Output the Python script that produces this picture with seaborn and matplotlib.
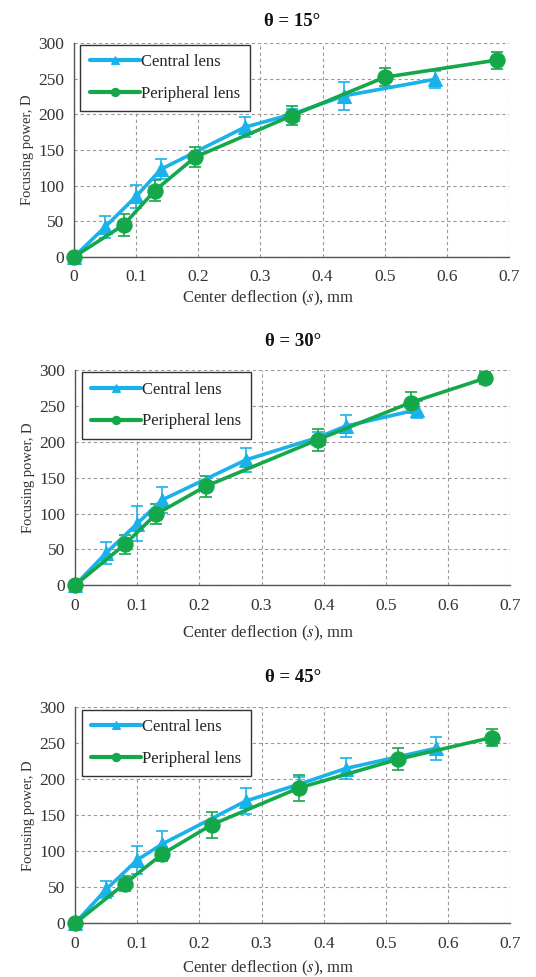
import numpy as np
import pandas as pd
import matplotlib
matplotlib.use("Agg")
import matplotlib.pyplot as plt
import seaborn as sns

titles = ["θ = 15°", "θ = 30°", "θ = 45°"]

c15_x = [0, 0.05, 0.10, 0.14, 0.275, 0.35, 0.435, 0.58]
c15_y = [0, 42, 85, 123, 182, 200, 226, 249]
c15_e = [0, 16, 16, 14, 14, 8, 20, 12]
p15_x = [0, 0.08, 0.13, 0.195, 0.35, 0.50, 0.68]
p15_y = [0, 45, 93, 140, 198, 252, 276]
p15_e = [0, 15, 15, 14, 13, 13, 12]

c30_x = [0, 0.05, 0.10, 0.14, 0.275, 0.39, 0.435, 0.55]
c30_y = [0, 45, 86, 119, 175, 206, 222, 245]
c30_e = [0, 15, 24, 18, 17, 8, 15, 12]
p30_x = [0, 0.08, 0.13, 0.21, 0.39, 0.54, 0.66]
p30_y = [0, 57, 99, 138, 203, 255, 289]
p30_e = [0, 13, 14, 15, 15, 14, 8]

c45_x = [0, 0.05, 0.10, 0.14, 0.275, 0.36, 0.435, 0.58]
c45_y = [0, 47, 88, 110, 170, 193, 215, 243]
c45_e = [0, 12, 20, 18, 18, 10, 15, 16]
p45_x = [0, 0.08, 0.14, 0.22, 0.36, 0.52, 0.67]
p45_y = [0, 55, 96, 137, 188, 228, 258]
p45_e = [0, 10, 10, 18, 18, 15, 12]

x_ticks = [0, 0.1, 0.2, 0.3, 0.4, 0.5, 0.6, 0.7]
x_tick_labels = ["0", "0.1", "0.2", "0.3", "0.4", "0.5", "0.6", "0.7"]
y_ticks = [0, 50, 100, 150, 200, 250, 300]

panels = [
    (c15_x, c15_y, c15_e, p15_x, p15_y, p15_e),
    (c30_x, c30_y, c30_e, p30_x, p30_y, p30_e),
    (c45_x, c45_y, c45_e, p45_x, p45_y, p45_e),
]

sns.set_style("white")
plt.rcParams['font.family'] = ['Liberation Serif', 'DejaVu Serif']
plt.rcParams['mathtext.fontset'] = 'stix'

BLUE = "#1ab2ea"
GREEN = "#14a84a"

fig = plt.figure(figsize=(5.36, 9.77), dpi=100)
rects = [
    (0.138, 0.737, 0.812, 0.219),
    (0.140, 0.401, 0.812, 0.220),
    (0.140, 0.055, 0.812, 0.221),
]
title_y = [22, 342, 677]
xlabel_y = [298, 633, 968]

for i, (rect, pan) in enumerate(zip(rects, panels)):
    cx, cy, ce, px, py, pe = pan
    ax = fig.add_axes(rect)
    df_c = pd.DataFrame({"x": cx, "y": cy})
    df_p = pd.DataFrame({"x": px, "y": py})
    ax.errorbar(cx, cy, yerr=ce, fmt="none", ecolor=BLUE, elinewidth=1.2, capsize=4, capthick=1.2, zorder=2)
    ax.errorbar(px, py, yerr=pe, fmt="none", ecolor=GREEN, elinewidth=1.2, capsize=4, capthick=1.2, zorder=2)
    sns.lineplot(data=df_c, x="x", y="y", ax=ax, color=BLUE, lw=2.6, marker="^", markersize=10,
                 markeredgecolor=BLUE, label="Central lens", zorder=3, sort=False, clip_on=False)
    sns.lineplot(data=df_p, x="x", y="y", ax=ax, color=GREEN, lw=2.6, marker="o", markersize=11,
                 markeredgecolor=GREEN, label="Peripheral lens", zorder=4, sort=False, clip_on=False)
    ax.set_xlim(0, 0.7)
    ax.set_ylim(0, 300)
    ax.set_xticks(x_ticks)
    ax.set_xticklabels(x_tick_labels)
    ax.set_yticks(y_ticks)
    ax.grid(True, color="#9a9a9a", ls=(0, (3, 2.5)), lw=0.8)
    for s in ["top", "right"]:
        ax.spines[s].set_visible(False)
    for s in ["left", "bottom"]:
        ax.spines[s].set_color("#555555")
        ax.spines[s].set_linewidth(1.0)
    ax.tick_params(axis="both", direction="out", length=4, width=1.0, color="#555555",
                   labelsize=12.5, labelcolor="#333333", pad=3)
    ax.tick_params(axis="x", pad=5)
    ax.set_xlabel("")
    ax.set_ylabel("Focusing power, D", fontsize=10.5, color="#333333", labelpad=3)
    fig.text(0.5 + 0.0, 1 - xlabel_y[i] / 977, "Center deflection ($\\mathit{s}$), mm",
             ha="center", va="center", fontsize=12, color="#333333")
    fig.text(rect[0] + rect[2] * 0.5 - 0.0, 1 - title_y[i] / 977, titles[i],
             ha="center", va="center", fontsize=13.5, fontweight="bold", color="#111111")
    leg = ax.legend(loc="upper left", bbox_to_anchor=(0.015, 0.99), borderaxespad=0, fontsize=12,
                    frameon=True, fancybox=False, edgecolor="#333333", framealpha=1, handlelength=3.0,
                    borderpad=0.55, labelspacing=0.95, handletextpad=0.1)
    leg.get_frame().set_linewidth(1.0)
    leg.set_zorder(10)
    for ln in leg.get_lines():
        ln.set_markersize(6)
        ln.set_linewidth(3)

fig.savefig("out.png", dpi=100)
